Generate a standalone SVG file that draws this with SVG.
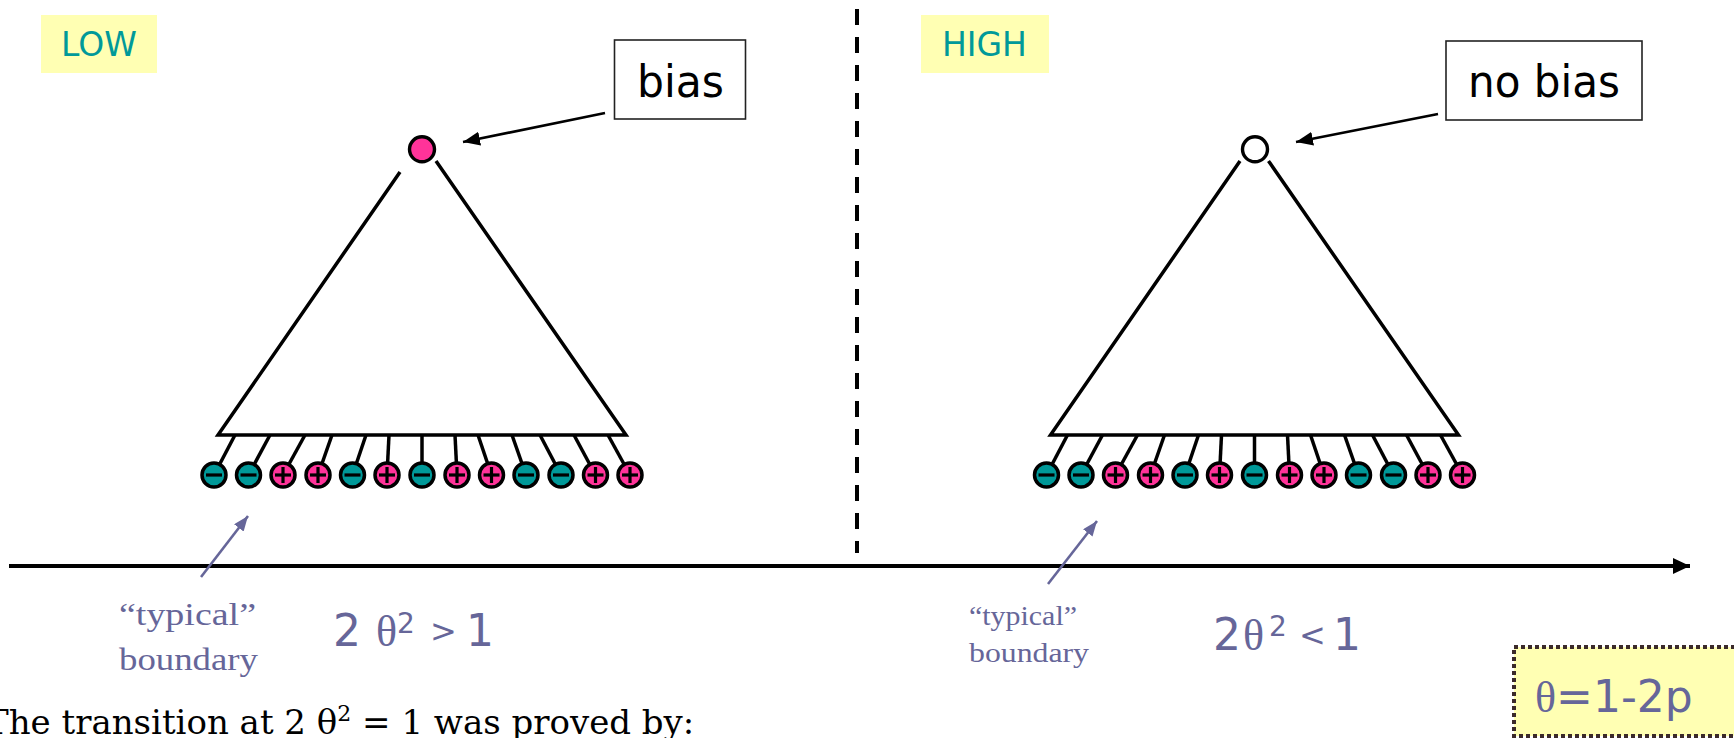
<svg xmlns="http://www.w3.org/2000/svg" width="1734" height="738" viewBox="0 0 1734 738">
  <style>
    .comic { font-family: "DejaVu Sans", sans-serif; }
    .tag { fill: #FFFFB3; }
    .tag-txt { fill: #009999; font-size: 33px; }
    .callout { fill: #FFFFFF; stroke: #222222; stroke-width: 1.6; }
    .callout-txt { fill: #000000; font-size: 44px; text-anchor: middle; }
    .edge { stroke: #000000; stroke-width: 3.5; fill: none; stroke-linejoin: miter; }
    .leaf-line { stroke: #000000; stroke-width: 3.5; }
    .neg { fill: #009999; stroke: #000000; stroke-width: 3.5; }
    .pos { fill: #FF3399; stroke: #000000; stroke-width: 3.5; }
    .sign { stroke: #000000; stroke-width: 3.2; fill: none; }
    .root { stroke: #000000; stroke-width: 3.4; }
    .pointer { stroke: #000000; stroke-width: 2.6; fill: none; }
    .purple-arrow { stroke: #666699; stroke-width: 2.6; fill: none; }
    .note { fill: #666699; font-family: "Liberation Serif", serif; }
    .math { fill: #666699; font-size: 44px; }
    .theta { font-family: "Liberation Serif", serif; }
  </style>
  <defs>
    <marker id="ah-black" markerUnits="userSpaceOnUse" markerWidth="18" markerHeight="14" refX="17" refY="7" orient="auto">
      <path d="M0,0 L17,7 L0,14 z" fill="#000000"/>
    </marker>
    <marker id="ah-axis" markerUnits="userSpaceOnUse" markerWidth="18" markerHeight="16" refX="17" refY="8" orient="auto">
      <path d="M0,0 L17,8 L0,16 z" fill="#000000"/>
    </marker>
    <marker id="ah-purple" markerUnits="userSpaceOnUse" markerWidth="16" markerHeight="12" refX="15" refY="6" orient="auto">
      <path d="M0,0 L15,6 L0,12 z" fill="#666699"/>
    </marker>
    <g id="leaf-neg">
      <circle r="12" class="neg"/>
      <line x1="-8" y1="0" x2="8" y2="0" class="sign"/>
    </g>
    <g id="leaf-pos">
      <circle r="12" class="pos"/>
      <line x1="-8" y1="0" x2="8" y2="0" class="sign"/>
      <line x1="0" y1="-8" x2="0" y2="8" class="sign"/>
    </g>
    <!-- shared leaf row: stems then signed leaves -->
    <g id="leaves">
      <g class="leaf-line">
        <line x1="-187" y1="435" x2="-208" y2="475"/>
        <line x1="-152" y1="435" x2="-173.5" y2="475"/>
        <line x1="-117" y1="435" x2="-139" y2="475"/>
        <line x1="-90" y1="435" x2="-104" y2="475"/>
        <line x1="-56" y1="435" x2="-69.5" y2="475"/>
        <line x1="-33" y1="435" x2="-35" y2="475"/>
        <line x1="0" y1="435" x2="0" y2="475"/>
        <line x1="33" y1="435" x2="35" y2="475"/>
        <line x1="56" y1="435" x2="69.5" y2="475"/>
        <line x1="90" y1="435" x2="104" y2="475"/>
        <line x1="118" y1="435" x2="139" y2="475"/>
        <line x1="152" y1="435" x2="173.5" y2="475"/>
        <line x1="186" y1="435" x2="208" y2="475"/>
      </g>
      <use href="#leaf-neg" x="-208" y="475"/>
      <use href="#leaf-neg" x="-173.5" y="475"/>
      <use href="#leaf-pos" x="-139" y="475"/>
      <use href="#leaf-pos" x="-104" y="475"/>
      <use href="#leaf-neg" x="-69.5" y="475"/>
      <use href="#leaf-pos" x="-35" y="475"/>
      <use href="#leaf-neg" x="0" y="475"/>
      <use href="#leaf-pos" x="35" y="475"/>
      <use href="#leaf-pos" x="69.5" y="475"/>
      <use href="#leaf-neg" x="104" y="475"/>
      <use href="#leaf-neg" x="139" y="475"/>
      <use href="#leaf-pos" x="173.5" y="475"/>
      <use href="#leaf-pos" x="208" y="475"/>
    </g>
  </defs>

  <!-- regime tags -->
  <g id="tag-low">
    <rect class="tag" x="41" y="15" width="116" height="58"/>
    <text class="comic tag-txt" x="61" y="56">LOW</text>
  </g>
  <g id="tag-high">
    <rect class="tag" x="921" y="15" width="128" height="58"/>
    <text class="comic tag-txt" x="942" y="56">HIGH</text>
  </g>

  <!-- callout boxes -->
  <g id="callout-bias">
    <rect class="callout" x="614.5" y="40" width="131" height="79"/>
    <text class="comic callout-txt" x="680.5" y="97" textLength="87" lengthAdjust="spacingAndGlyphs">bias</text>
  </g>
  <g id="callout-nobias">
    <rect class="callout" x="1446" y="41" width="196" height="79"/>
    <text class="comic callout-txt" x="1544" y="97" textLength="152" lengthAdjust="spacingAndGlyphs">no bias</text>
  </g>

  <!-- low-noise tree -->
  <g id="tree-low" transform="translate(422,0)">
    <polyline class="edge" points="-22,172 -204,435 204,435 14,161"/>
    <use href="#leaves"/>
    <circle class="root" cx="0" cy="149.3" r="12.5" fill="#FF3399"/>
  </g>

  <!-- high-noise tree -->
  <g id="tree-high" transform="translate(1254.5,0)">
    <polyline class="edge" points="-14.5,161 -204,435 204,435 14,161"/>
    <use href="#leaves"/>
    <circle class="root" cx="0.5" cy="149.3" r="12.5" fill="#FFFFFF"/>
  </g>

  <!-- connectors -->
  <g id="connectors">
    <line class="pointer" x1="605" y1="113" x2="463" y2="142" marker-end="url(#ah-black)"/>
    <line class="pointer" x1="1438" y1="114" x2="1296" y2="142" marker-end="url(#ah-black)"/>
    <line x1="857" y1="9" x2="857" y2="553" stroke="#000000" stroke-width="4" stroke-dasharray="16 12"/>
    <line x1="9" y1="566" x2="1690" y2="566" stroke="#000000" stroke-width="4" marker-end="url(#ah-axis)"/>
    <line class="purple-arrow" x1="201" y1="577" x2="248" y2="516" marker-end="url(#ah-purple)"/>
    <line class="purple-arrow" x1="1048" y1="584" x2="1097" y2="521" marker-end="url(#ah-purple)"/>
  </g>

  <!-- boundary notes -->
  <g id="note-low">
    <text class="note" x="119" y="625" font-size="31" textLength="137" lengthAdjust="spacingAndGlyphs">“typical”</text>
    <text class="note" x="119" y="670" font-size="31" textLength="139" lengthAdjust="spacingAndGlyphs">boundary</text>
  </g>
  <g id="note-high">
    <text class="note" x="969" y="625" font-size="28" textLength="108" lengthAdjust="spacingAndGlyphs">“typical”</text>
    <text class="note" x="969" y="662" font-size="28" textLength="120" lengthAdjust="spacingAndGlyphs">boundary</text>
  </g>

  <!-- threshold conditions -->
  <g id="cond-low" class="comic math">
    <text x="333" y="646">2</text>
    <text class="theta" x="376" y="646">θ</text>
    <text x="397" y="633" font-size="28">2</text>
    <text x="430" y="642" font-size="32">&gt;</text>
    <text x="466" y="646">1</text>
  </g>
  <g id="cond-high" class="comic math">
    <text x="1213" y="650">2</text>
    <text class="theta" x="1243" y="650">θ</text>
    <text x="1269" y="636" font-size="28">2</text>
    <text x="1299" y="646" font-size="32">&lt;</text>
    <text x="1333" y="650">1</text>
  </g>

  <!-- definition box -->
  <g id="def-theta">
    <rect x="1514" y="647" width="240" height="89" fill="#FFFFB3" stroke="#3B2A2A" stroke-width="4" stroke-dasharray="4 3"/>
    <text class="comic math" x="1535" y="712" font-size="46"><tspan class="theta">θ</tspan>=1-2p</text>
  </g>

  <!-- footer sentence -->
  <text id="footer" x="-14" y="734" font-family="DejaVu Serif, serif" font-size="34" fill="#000000">The transition at 2 θ<tspan font-size="22" dy="-13">2</tspan><tspan dy="13"> = 1 was proved by:</tspan></text>
</svg>
